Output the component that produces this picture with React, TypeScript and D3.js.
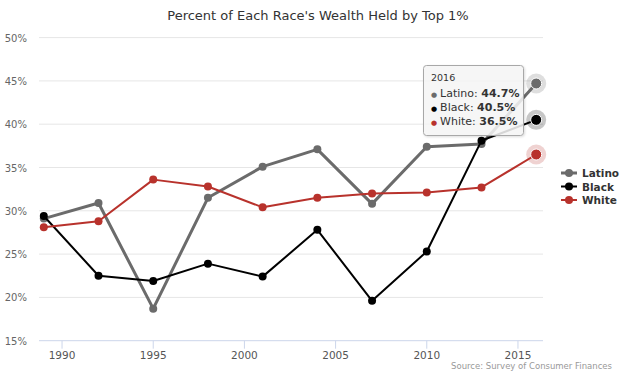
import React from "react";
import * as d3 from "d3";

const years = [1989, 1992, 1995, 1998, 2001, 2004, 2007, 2010, 2013, 2016];
const latino = [29.1, 30.9, 18.7, 31.5, 35.1, 37.1, 30.8, 37.4, 37.7, 44.7];
const black = [29.4, 22.5, 21.9, 23.9, 22.4, 27.8, 19.6, 25.3, 38.1, 40.5];
const white = [28.1, 28.8, 33.6, 32.8, 30.4, 31.5, 32.0, 32.1, 32.7, 36.5];
const seriesNames = ["Latino", "Black", "White"];
const seriesColors = ["#6b6b6b", "#000000", "#b8322c"];
const yTicks = [15, 20, 25, 30, 35, 40, 45, 50];
const xTicks = [1990, 1995, 2000, 2005, 2010, 2015];
const title = "Percent of Each Race's Wealth Held by Top 1%";
const source = "Source: Survey of Consumer Finances";
const hoverYear = 2016;

const W = 640;
const H = 391;
const FONT = "'DejaVu Sans', sans-serif";

export default function App() {
  const x = d3.scaleLinear().domain([1989, 2016]).range([43.8, 536.2]);
  const y = d3.scaleLinear().domain([15, 50]).range([340.7, 37.6]);
  const plotLeft = 39;
  const plotRight = 543;
  const data = [latino, black, white];
  const widths = [3, 2, 2];
  const line = d3
    .line<number>()
    .x((_, i) => x(years[i]))
    .y((v) => y(v));
  const hi = years.indexOf(hoverYear);

  const ttX = 423;
  const ttY = 65;
  const ttW = 100;
  const ttH = 70;

  return (
    <svg
      width={W}
      height={H}
      style={{ position: "absolute", left: 0, top: 0, background: "#fff" }}
      fontFamily={FONT}
    >
      <text x={318} y={20} textAnchor="middle" fontSize={13} fill="#333">
        {title}
      </text>
      {yTicks.map((t) => (
        <g key={t}>
          {t !== 15 && (
            <line x1={plotLeft} x2={plotRight} y1={y(t)} y2={y(t)} stroke="#e6e6e6" strokeWidth={1} />
          )}
          <text x={27} y={y(t) + 4} textAnchor="end" fontSize={10} fill="#666">
            {t}%
          </text>
        </g>
      ))}
      <line x1={plotLeft} x2={plotRight} y1={y(15)} y2={y(15)} stroke="#ccd6eb" strokeWidth={1} />
      {xTicks.map((t) => (
        <g key={t}>
          <line x1={x(t)} x2={x(t)} y1={y(15)} y2={y(15) + 8} stroke="#ccd6eb" strokeWidth={1} />
          <text x={x(t)} y={y(15) + 18} textAnchor="middle" fontSize={10.5} fill="#555">
            {t}
          </text>
        </g>
      ))}
      <text x={612} y={369} textAnchor="end" fontSize={8.5} fill="#999">
        {source}
      </text>
      {data.map((vals, si) => (
        <g key={si}>
          <path d={line(vals) || ""} fill="none" stroke={seriesColors[si]} strokeWidth={widths[si]} strokeLinejoin="round" />
          {vals.map((v, i) =>
            i === hi ? null : (
              <circle key={i} cx={x(years[i])} cy={y(v)} r={4} fill={seriesColors[si]} />
            )
          )}
        </g>
      ))}
      {data.map((vals, si) => (
        <g key={"h" + si}>
          <circle cx={x(years[hi])} cy={y(vals[hi])} r={10} fill={seriesColors[si]} opacity={0.22} />
          <circle cx={x(years[hi])} cy={y(vals[hi])} r={5.5} fill={seriesColors[si]} stroke="#fff" strokeWidth={1} />
        </g>
      ))}
      <defs>
        <filter id="sh" x="-20%" y="-20%" width="140%" height="140%">
          <feDropShadow dx="1" dy="1" stdDeviation="1.2" floodColor="#000" floodOpacity="0.15" />
        </filter>
      </defs>
      <rect
        x={ttX + 0.5}
        y={ttY + 0.5}
        width={ttW}
        height={ttH}
        rx={3}
        fill="rgba(247,247,247,0.85)"
        stroke="#a8a8a8"
        strokeWidth={1}
        filter="url(#sh)"
      />
      <text x={ttX + 8} y={ttY + 16} fontSize={9.5} fill="#333">
        {hoverYear}
      </text>
      {data.map((vals, si) => (
        <text key={"t" + si} x={ttX + 8} y={ttY + 32 + si * 14} fontSize={11} fill="#333">
          <tspan fill={seriesColors[si]} fontSize={7}>●</tspan>
          <tspan dx={3}>{seriesNames[si]}: </tspan>
          <tspan fontWeight="bold">{vals[hi].toFixed(1)}%</tspan>
        </text>
      ))}
      {seriesNames.map((n, si) => {
        const ly = 173 + si * 13.5;
        return (
          <g key={"l" + si}>
            <line x1={561} x2={577} y1={ly} y2={ly} stroke={seriesColors[si]} strokeWidth={widths[si]} />
            <circle cx={569} cy={ly} r={4} fill={seriesColors[si]} />
            <text x={582} y={ly + 4} fontSize={10.5} fontWeight="bold" fill="#333">
              {n}
            </text>
          </g>
        );
      })}
    </svg>
  );
}
